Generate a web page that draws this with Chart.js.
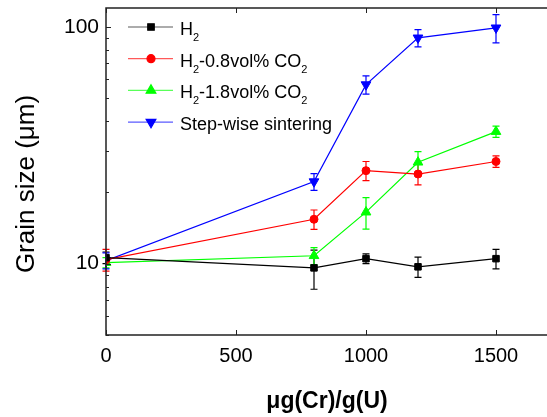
<!DOCTYPE html>
<html>
<head>
<meta charset="utf-8">
<script src="https://cdn.jsdelivr.net/npm/chart.js@4.4.0/dist/chart.umd.min.js"></script>
<style>
  html, body { margin: 0; padding: 0; background: #fff; overflow: hidden; }
  #wrap { width: 560px; height: 417px; }
</style>
</head>
<body>
<div id="wrap"><canvas id="grainChart" width="560" height="417"></canvas></div>
<script>
// Grain size vs Cr addition, log y axis
const doses = [0, 800, 1000, 1200, 1500];

const h2 = [10.6, 9.6, 10.5, 9.7, 10.5];
const h2Err = [0.6, 1.8, 0.5, 0.95, 1.0];
const co08 = [10.4, 15.4, 24.7, 23.9, 27.0];
const co08Err = [1.1, 1.45, 2.3, 2.4, 1.5];
const co18 = [10.1, 10.8, 16.5, 26.8, 36.1];
const co18Err = [0.5, 0.9, 2.5, 2.9, 2.0];
const stepwise = [10.3, 22.2, 57.0, 89.8, 99.0];
const stepwiseErr = [0.8, 1.8, 5.0, 7.5, 13.5];

// "_" marks a one-character subscript
const seriesLabels = ['H_2', 'H_2-0.8vol% CO_2', 'H_2-1.8vol% CO_2', 'Step-wise sintering'];
const xTicks = [0, 500, 1000, 1500];
const yTicks = [5, 6, 7, 8, 9, 10, 20, 30, 40, 50, 60, 70, 80, 90, 100];
const yLabelled = [10, 100];
const xTitle = 'μg(Cr)/g(U)';
const yTitle = 'Grain size (μm)';

const FONT = "'Liberation Sans', Arial, sans-serif";
const AXIS = '#222';

function pts(vals) { return doses.map((x, i) => ({ x, y: vals[i] })); }

function series(label, vals, errs, color, style, radius, rotation) {
  return {
    label, data: pts(vals), errors: errs,
    borderColor: color, backgroundColor: color, borderWidth: 1.2,
    pointStyle: style, pointRadius: radius, pointRotation: rotation || 0,
    pointBorderWidth: 1, pointBorderColor: color, pointBackgroundColor: color,
    tension: 0
  };
}

// vertical error bars with caps, placed through the chart's own scales
const errorBars = {
  id: 'errorBars',
  beforeDatasetsDraw(chart) {
    const { ctx, scales: { x, y } } = chart;
    ctx.save();
    chart.data.datasets.forEach(ds => {
      ctx.strokeStyle = ds.borderColor;
      ctx.lineWidth = 1.2;
      ds.data.forEach((p, i) => {
        const e = ds.errors[i];
        const px = x.getPixelForValue(p.x);
        const top = y.getPixelForValue(p.y + e);
        const bot = y.getPixelForValue(p.y - e);
        ctx.beginPath();
        ctx.moveTo(px, top); ctx.lineTo(px, bot);
        ctx.moveTo(px - 3.5, top); ctx.lineTo(px + 3.5, top);
        ctx.moveTo(px - 3.5, bot); ctx.lineTo(px + 3.5, bot);
        ctx.stroke();
      });
    });
    ctx.restore();
  }
};

// frame with inward ticks, Origin style
const frame = {
  id: 'frame',
  afterDatasetsDraw(chart) {
    const { ctx, chartArea: a, scales: { x, y } } = chart;
    ctx.save();
    ctx.strokeStyle = AXIS;
    ctx.lineWidth = 1.5;
    ctx.beginPath();
    ctx.moveTo(a.right + 5, a.top); ctx.lineTo(a.left, a.top);
    ctx.lineTo(a.left, a.bottom); ctx.lineTo(a.right + 5, a.bottom);
    ctx.stroke();
    ctx.lineWidth = 1;
    ctx.beginPath();
    xTicks.forEach(v => {
      const px = Math.round(x.getPixelForValue(v)) + 0.5;
      ctx.moveTo(px, a.bottom); ctx.lineTo(px, a.bottom - 5);
      ctx.moveTo(px, a.top); ctx.lineTo(px, a.top + 5);
    });
    yTicks.forEach(v => {
      const py = Math.round(y.getPixelForValue(v)) + 0.5;
      const len = yLabelled.includes(v) ? 5 : 3;
      ctx.moveTo(a.left, py); ctx.lineTo(a.left + len, py);
    });
    ctx.stroke();
    ctx.restore();
  }
};

function drawSubText(ctx, str, x, y, size) {
  let cx = x;
  for (let i = 0; i < str.length; i++) {
    if (str[i] === '_' && i + 1 < str.length) {
      ctx.font = Math.round(size * 0.62) + 'px ' + FONT;
      ctx.fillText(str[i + 1], cx, y + 6);
      cx += ctx.measureText(str[i + 1]).width;
      i++;
    } else {
      ctx.font = size + 'px ' + FONT;
      ctx.fillText(str[i], cx, y);
      cx += ctx.measureText(str[i]).width;
    }
  }
}

// legend box in the upper left corner of the plot
const cornerLegend = {
  id: 'cornerLegend',
  afterDraw(chart) {
    const { ctx, chartArea: a } = chart;
    ctx.save();
    chart.data.datasets.forEach((ds, i) => {
      const rowY = a.top + 19 + i * 31.7;
      ctx.globalAlpha = 0.65;
      ctx.strokeStyle = ds.borderColor;
      ctx.lineWidth = 1.2;
      ctx.beginPath();
      ctx.moveTo(a.left + 22, rowY); ctx.lineTo(a.left + 67, rowY);
      ctx.stroke();
      ctx.globalAlpha = 1;
      ctx.fillStyle = ds.backgroundColor;
      ctx.strokeStyle = ds.borderColor;
      Chart.helpers.drawPoint(ctx, {
        pointStyle: ds.pointStyle, radius: ds.pointRadius,
        rotation: ds.pointRotation, borderWidth: 1
      }, a.left + 45, rowY);
      ctx.fillStyle = '#000';
      ctx.textBaseline = 'alphabetic';
      drawSubText(ctx, ds.label, a.left + 74, rowY + 8, 18);
    });
    // y axis title
    ctx.translate(27, 184);
    ctx.rotate(-Math.PI / 2);
    ctx.font = '26px ' + FONT;
    ctx.fillStyle = '#000';
    ctx.textAlign = 'center';
    ctx.textBaseline = 'middle';
    ctx.fillText(yTitle, 0, 0);
    ctx.restore();
  }
};

new Chart(document.getElementById('grainChart'), {
  type: 'line',
  data: {
    datasets: [
      series(seriesLabels[0], h2, h2Err, '#000000', 'rect', 4.6),
      series(seriesLabels[1], co08, co08Err, '#ff0000', 'circle', 4),
      series(seriesLabels[2], co18, co18Err, '#00ff00', 'triangle', 5.6),
      series(seriesLabels[3], stepwise, stepwiseErr, '#0000ff', 'triangle', 5.6, 180)
    ]
  },
  options: {
    responsive: false,
    animation: false,
    layout: { padding: { left: 0, top: 8, right: 12, bottom: 0 } },
    plugins: { legend: { display: false }, tooltip: { enabled: false } },
    scales: {
      x: {
        type: 'linear', min: 0, max: 1700,
        afterBuildTicks: s => { s.ticks = xTicks.map(v => ({ value: v })); },
        afterFit: s => { s.height = 82; s.paddingLeft = 0; s.paddingRight = 0; },
        grid: { display: false, drawTicks: false },
        border: { display: false },
        ticks: {
          color: '#000', font: { family: FONT, size: 20 }, padding: 9, maxRotation: 0, autoSkip: false,
          callback: v => String(v)
        },
        title: { display: true, text: xTitle, color: '#000', font: { family: FONT, size: 23, weight: 'bold' }, padding: { top: 0, bottom: 2 } }
      },
      y: {
        type: 'logarithmic', min: 5, max: 120,
        afterBuildTicks: s => { s.ticks = yTicks.map(v => ({ value: v, major: yLabelled.includes(v) })); },
        afterFit: s => { s.width = 106; s.paddingTop = 0; s.paddingBottom = 0; },
        grid: { display: false, drawTicks: false },
        border: { display: false },
        ticks: {
          color: '#000', font: { family: FONT, size: 21 }, padding: 7, autoSkip: false,
          callback: v => yLabelled.includes(v) ? String(v) : ''
        }
      }
    }
  },
  plugins: [errorBars, frame, cornerLegend]
});
</script>
</body>
</html>
